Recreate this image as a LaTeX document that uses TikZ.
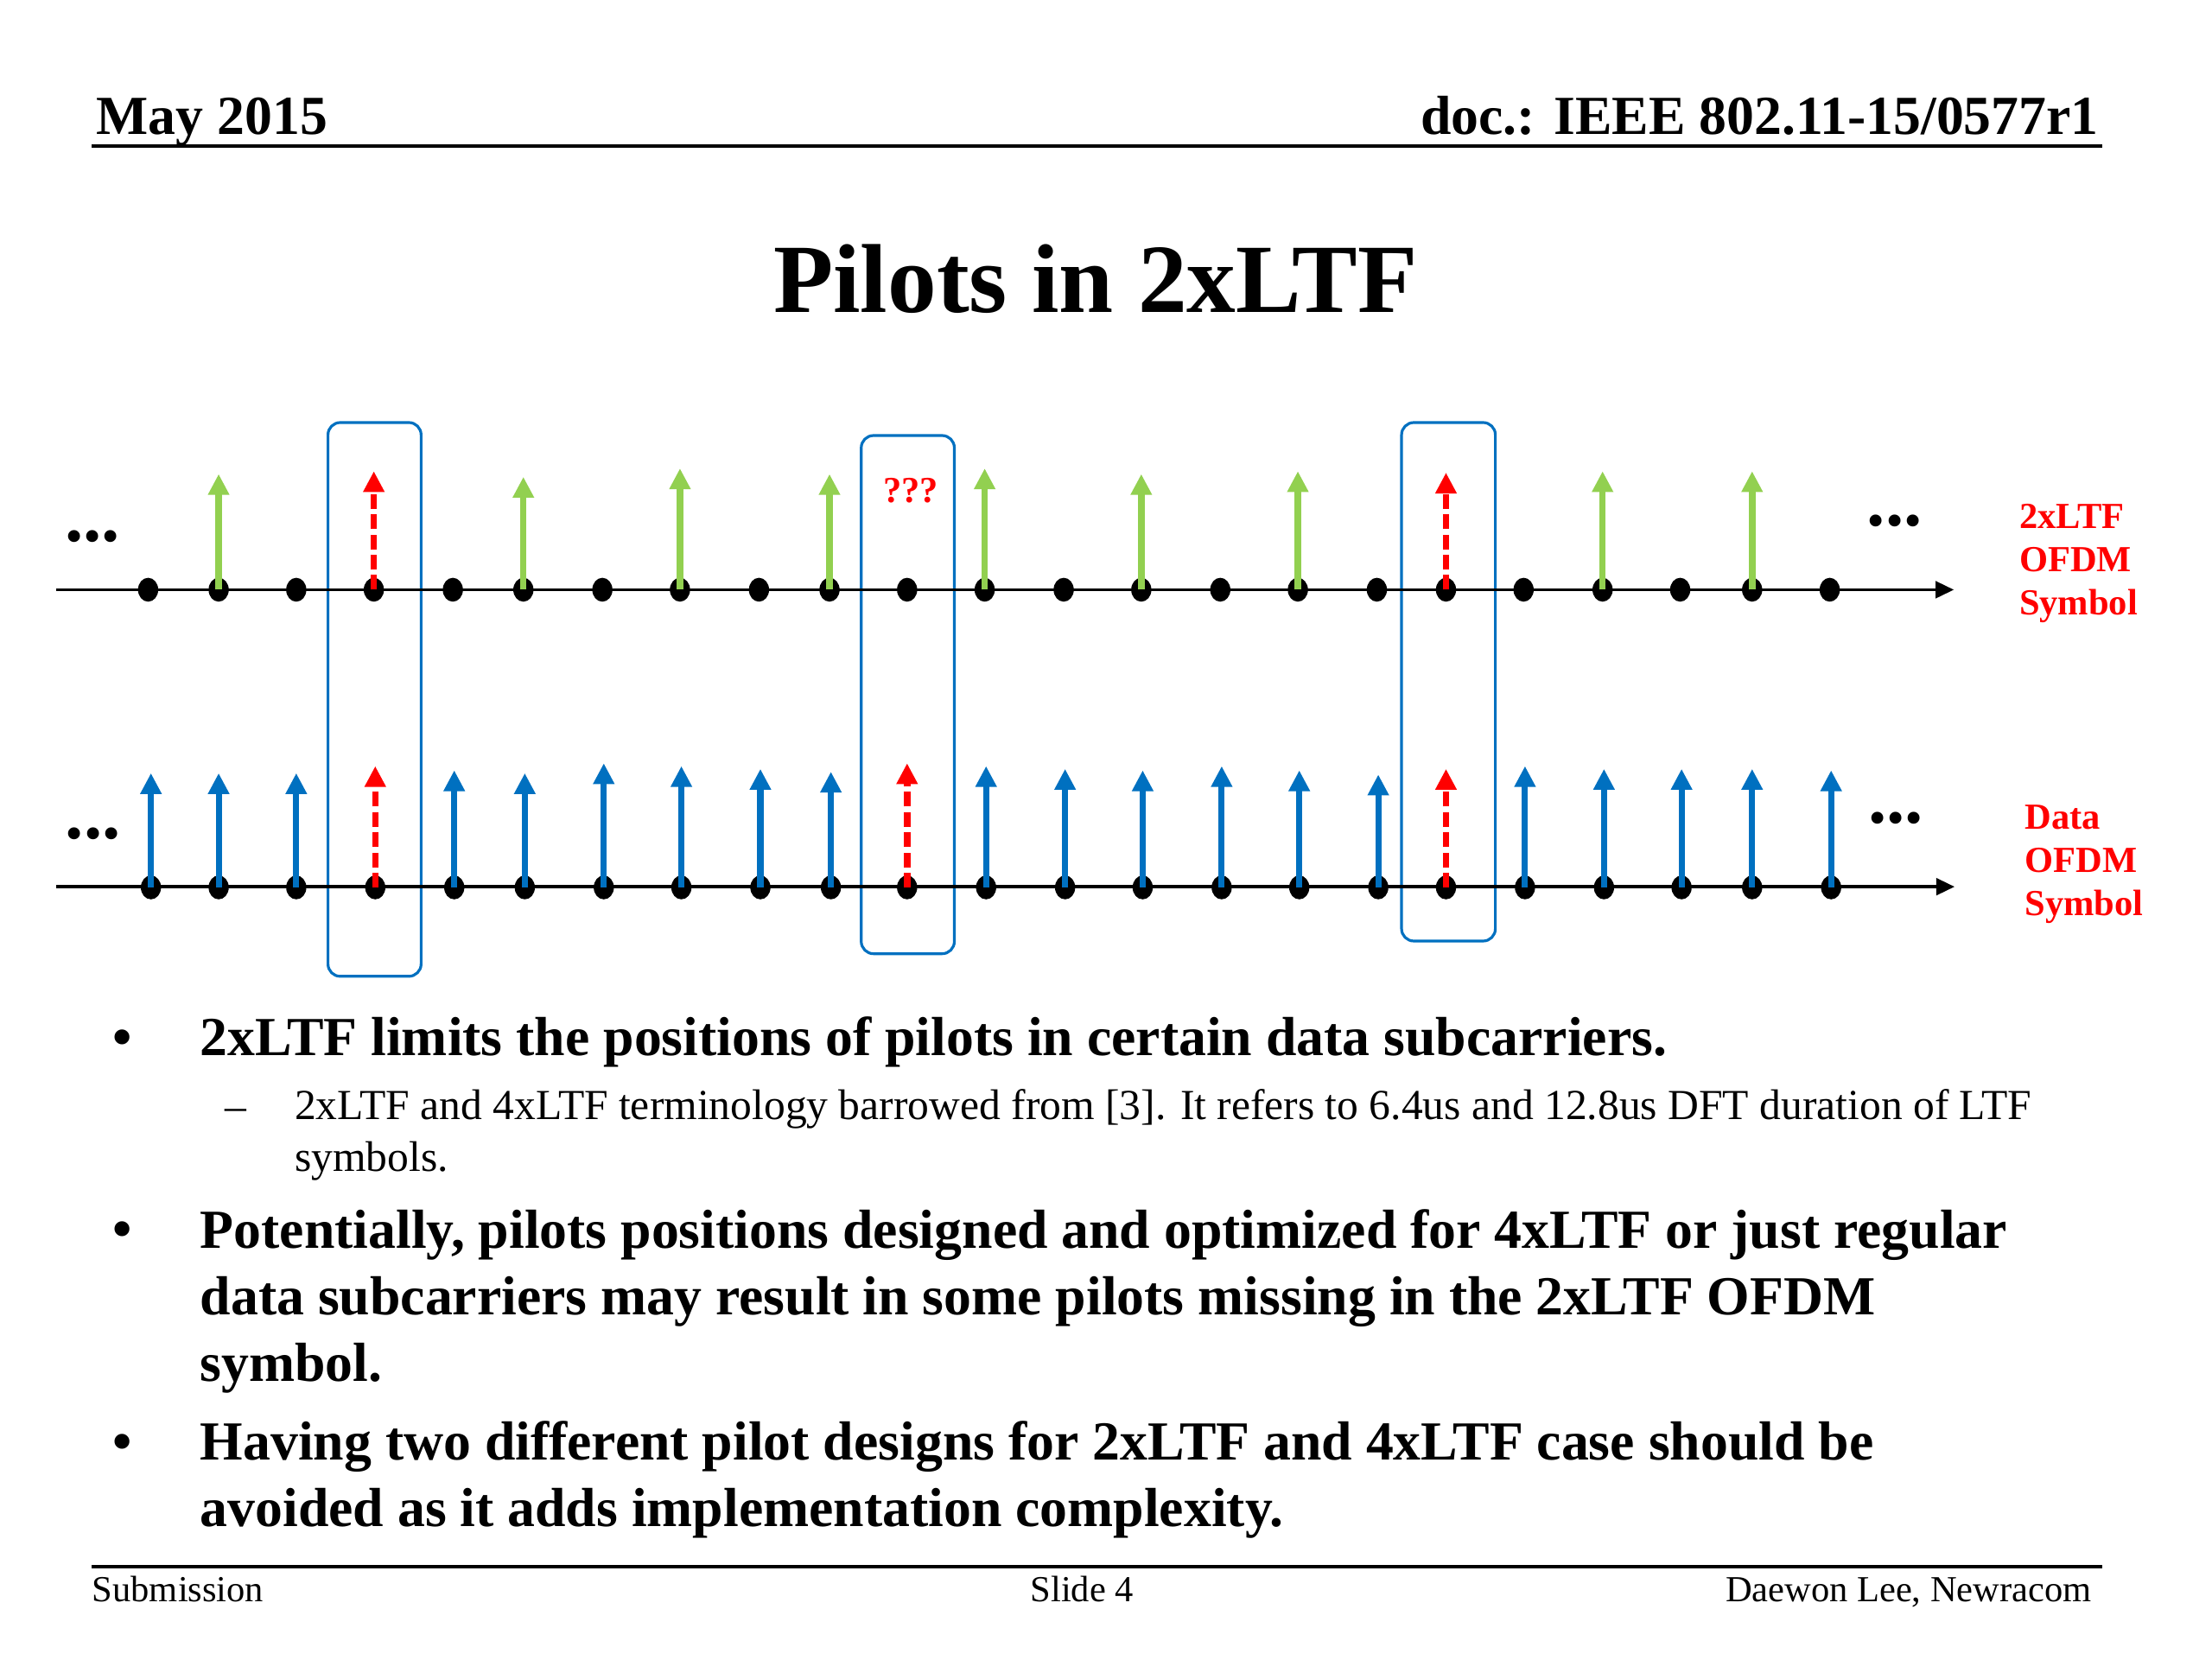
\documentclass[tikz,border=0pt]{standalone}
\usepackage{fontspec}
\setmainfont{Liberation Serif}
\usepackage{tikz}
\usetikzlibrary{arrows.meta,shapes.geometric}
\definecolor{ltfgreen}{HTML}{92D050}
\definecolor{datablue}{HTML}{0070C0}
\definecolor{pilotred}{HTML}{FF0000}

\begin{document}
\begin{tikzpicture}[x=0.0162cm, y=-0.0162cm,
    subc/.style={ellipse, fill=black, inner sep=0pt, minimum width=6.6pt, minimum height=7.8pt},
    freqaxis/.style={line width=1pt, -{Triangle[length=6pt,width=5.5pt]}},
    ltfpilot/.style={ltfgreen, line width=2.1pt, -{Triangle[length=6.8pt,width=6.6pt]}},
    datapilot/.style={datablue, line width=2pt, -{Triangle[length=6.8pt,width=6.6pt]}},
    misspilot/.style={pilotred, line width=2.1pt, dash pattern=on 4.8pt off 1.8pt, -{Triangle[length=6.8pt,width=6.6pt]}},
    pilotbox/.style={draw=datablue, line width=0.9pt, rounded corners=4pt},
    moredots/.style={font=\fontsize{24}{24}\selectfont\bfseries, inner sep=0pt, anchor=base},
    rowlabel/.style={pilotred, font=\fontsize{12}{14.2}\selectfont\bfseries, align=left, anchor=base west, inner sep=0pt},
    bulletmark/.style={font=\fontsize{18}{21.7}\selectfont\bfseries, inner sep=0pt, anchor=base},
    bullettext/.style={font=\fontsize{18}{21.7}\selectfont\bfseries, align=left, anchor=base west, inner sep=0pt},
    subtext/.style={font=\fontsize{14}{16.7}\selectfont, align=left, anchor=base west, inner sep=0pt},
    headtext/.style={font=\fontsize{18}{21}\selectfont\bfseries, inner sep=0pt},
    foottext/.style={font=\fontsize{12}{14}\selectfont, inner sep=0pt}]
    \useasboundingbox (0,0) rectangle (1568,1176);

    \node[headtext, anchor=base west] (date) at (68,95) {May 2015};
    \node[headtext, anchor=base east] (docid) at (1488,95) {doc.: IEEE 802.11-15/0577r1};
    \draw[line width=1.2pt] (65,103.7) -- (1490,103.7);
    \node[font=\fontsize{32}{38}\selectfont\bfseries, inner sep=0pt, anchor=base] (title) at (776.5,221.6) {Pilots in 2xLTF};

    \draw[pilotbox] (232.5,299.5) rectangle (298.5,692);
    \draw[pilotbox] (610.5,308.7) rectangle (676.5,676);
    \draw[pilotbox] (993.5,299.5) rectangle (1060,667);

    \coordinate (ltfstart) at (40,418);
    \coordinate (ltfend) at (1385,418);
    \draw[freqaxis] (ltfstart) -- (ltfend);
    \foreach \x [count=\i] in {105,155,210,265,321,371,427,482,538,588,643,698,754,809,865,920,976,1025,1080,1136,1191,1242,1297}
        \node[subc] (t\i) at (\x,418) {};
    \foreach \i/\tip in {2/336,6/338,8/332,10/336,12/332,14/336,16/334,20/334,22/334} {
        \path (t\i.center) ++(0,{\tip-418}) coordinate (t\i tip);
        \draw[ltfpilot] (t\i.center) -- (t\i tip);
    }
    \foreach \i/\tip in {4/334,18/335} {
        \path (t\i.center) ++(0,{\tip-418}) coordinate (t\i tip);
        \draw[misspilot] (t\i.center) -- (t\i tip);
    }
    \node[pilotred, font=\fontsize{12}{14}\selectfont\bfseries, inner sep=0pt, anchor=base] (missing) at (645.5,356) {???};

    \coordinate (datastart) at (40,628.5);
    \coordinate (dataend) at (1385.5,628.5);
    \draw[freqaxis] (datastart) -- (dataend);
    \foreach \x [count=\i] in {107,155,210,266,322,372,428,483,539,589,643,699,755,810,866,921,977,1025,1081,1137,1192,1242,1298}
        \node[subc] (d\i) at (\x,629) {};
    \foreach \i/\tip in {1/548,2/548,3/548,5/546,6/548,7/541,8/543,9/545,10/547,12/543,13/545,14/546,15/543,16/546,17/549,19/543,20/545,21/545,22/545,23/546} {
        \path (d\i.center) ++(0,{\tip-629}) coordinate (d\i tip);
        \draw[datapilot] (d\i.center) -- (d\i tip);
    }
    \foreach \i/\tip in {4/543,11/541,18/545} {
        \path (d\i.center) ++(0,{\tip-629}) coordinate (d\i tip);
        \draw[misspilot] (d\i.center) -- (d\i tip);
    }

    \node[moredots] (ltfleft) at (65.5,383.5) {...};
    \node[moredots] (ltfright) at (1343,373) {...};
    \node[moredots] (dataleft) at (66,594.5) {...};
    \node[moredots] (dataright) at (1344,583.5) {...};
    \node[rowlabel] (ltflabel) at (1431,436) {2xLTF\\OFDM\\Symbol};
    \node[rowlabel] (datalabel) at (1435,649) {Data\\OFDM\\Symbol};

    \node[bulletmark] (dot1) at (87,748) {•};
    \node[bullettext] (item1) at (141.5,748) {2xLTF limits the positions of pilots in certain data subcarriers.};
    \node[foottext, font=\fontsize{14}{14}\selectfont, anchor=base] (dash1) at (167,794) {–};
    \node[subtext] (sub1) at (208.5,830) {2xLTF and 4xLTF terminology barrowed from [3]. It refers to 6.4us and 12.8us DFT duration of LTF\\symbols.};
    \node[bulletmark] (dot2) at (87,884) {•};
    \node[bullettext] (item2) at (141.5,979) {Potentially, pilots positions designed and optimized for 4xLTF or just regular\\data subcarriers may result in some pilots missing in the 2xLTF OFDM\\symbol.};
    \node[bulletmark] (dot3) at (87,1035) {•};
    \node[bullettext] (item3) at (141.5,1082) {Having two different pilot designs for 2xLTF and 4xLTF case should be\\avoided as it adds implementation complexity.};

    \draw[line width=1.2pt] (65,1110.5) -- (1490,1110.5);
    \node[foottext, anchor=base west] (subm) at (65,1135.5) {Submission};
    \node[foottext, anchor=base] (slide) at (767,1135.5) {Slide 4};
    \node[foottext, anchor=base east] (author) at (1483,1135.5) {Daewon Lee, Newracom};
\end{tikzpicture}
\end{document}
